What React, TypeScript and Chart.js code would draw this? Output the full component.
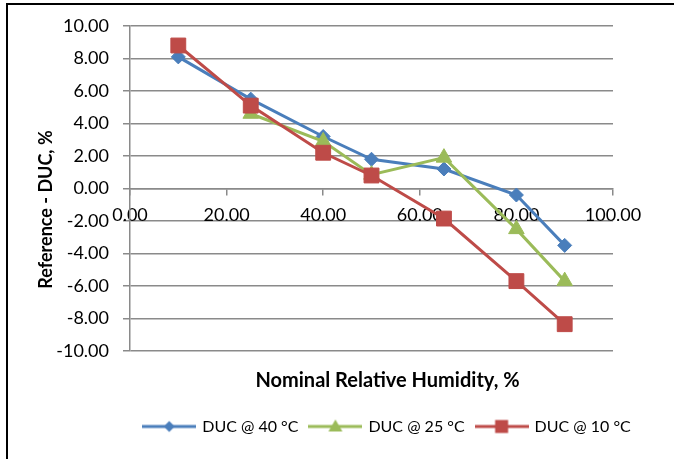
import React, { useEffect, useRef } from "react";
import { Chart, registerables } from "chart.js";

Chart.register(...registerables);

const seriesNames = ["DUC @ 40 °C", "DUC @ 25 °C", "DUC @ 10 °C"];
const xBlue = [10, 25, 40, 50, 65, 80, 90];
const yBlue = [8.1, 5.5, 3.2, 1.8, 1.2, -0.4, -3.5];
const xGreen = [25, 40, 50, 65, 80, 90];
const yGreen = [4.6, 2.9, 0.85, 1.9, -2.5, -5.7];
const xRed = [10, 25, 40, 50, 65, 80, 90];
const yRed = [8.8, 5.1, 2.2, 0.8, -1.85, -5.7, -8.35];
const xTitle = "Nominal Relative Humidity, %";
const yTitle = "Reference - DUC, %";

const BLUE = "#4A7EBB";
const GREEN = "#9BBB59";
const RED = "#BE4B48";
const GRID = "#8a8a8a";
const FONT = "Lato";

function pts(xs: number[], ys: number[]) {
  return xs.map((x, i) => ({ x, y: ys[i] }));
}

function legendImg(color: string, kind: string): HTMLCanvasElement {
  const c = document.createElement("canvas");
  c.width = 54;
  c.height = 18;
  const g = c.getContext("2d")!;
  g.strokeStyle = color;
  g.fillStyle = color;
  g.lineWidth = 3;
  g.beginPath();
  g.moveTo(0, 9);
  g.lineTo(54, 9);
  g.stroke();
  const cx = 27, cy = 9;
  g.beginPath();
  if (kind === "diamond") {
    g.moveTo(cx, cy - 5.5);
    g.lineTo(cx + 5.5, cy);
    g.lineTo(cx, cy + 5.5);
    g.lineTo(cx - 5.5, cy);
  } else if (kind === "triangle") {
    g.moveTo(cx, cy - 7);
    g.lineTo(cx + 7, cy + 5);
    g.lineTo(cx - 7, cy + 5);
  } else {
    g.rect(cx - 6.5, cy - 6.5, 13, 13);
  }
  g.closePath();
  g.fill();
  return c;
}

const yTitlePlugin = {
  id: "yTitlePlugin",
  afterDraw(chart: any) {
    const { ctx, chartArea } = chart;
    const cy = (chartArea.top + chartArea.bottom) / 2 + 21;
    ctx.save();
    ctx.translate(46, cy);
    ctx.rotate(-Math.PI / 2);
    ctx.font = `bold 18px ${FONT}`;
    ctx.fillStyle = "#000";
    ctx.textAlign = "center";
    ctx.textBaseline = "middle";
    ctx.fillText(yTitle, 0, 0);
    ctx.restore();
  },
};

export default function App() {
  const ref = useRef<HTMLCanvasElement | null>(null);

  useEffect(() => {
    document.body.style.margin = "0";
    const imgs = [legendImg(BLUE, "diamond"), legendImg(GREEN, "triangle"), legendImg(RED, "rect")];
    const colors = [BLUE, GREEN, RED];
    const chart = new Chart(ref.current!, {
      type: "line",
      data: {
        datasets: [
          {
            label: seriesNames[0],
            data: pts(xBlue, yBlue),
            borderColor: BLUE,
            backgroundColor: BLUE,
            borderWidth: 3,
            pointStyle: "rectRot",
            pointRadius: 7,
            pointBorderWidth: 1,
            order: 3,
          },
          {
            label: seriesNames[1],
            data: pts(xGreen, yGreen),
            borderColor: GREEN,
            backgroundColor: GREEN,
            borderWidth: 3,
            pointStyle: "triangle",
            pointRadius: 9,
            pointBorderWidth: 1,
            order: 2,
          },
          {
            label: seriesNames[2],
            data: pts(xRed, yRed),
            borderColor: RED,
            backgroundColor: RED,
            borderWidth: 3,
            pointStyle: "rect",
            pointRadius: 10.5,
            pointBorderWidth: 1,
            order: 1,
          },
        ],
      },
      options: {
        responsive: false,
        animation: false,
        layout: { padding: { left: 101, right: 0, top: 26, bottom: 14.5 } },
        scales: {
          x: {
            type: "linear",
            position: { y: 0 } as any,
            min: 0,
            max: 100,
            grid: { drawOnChartArea: false, drawTicks: true, tickLength: 6, color: GRID, lineWidth: 1.5 },
            border: { display: true, color: GRID, width: 1.5 },
            ticks: {
              stepSize: 20,
              padding: 10,
              color: "#000",
              font: { family: FONT, size: 18 },
              callback: (v: any) => Number(v).toFixed(2),
              maxRotation: 0,
              autoSkip: false,
            },
          },
          y: {
            type: "linear",
            position: "left",
            min: -10,
            max: 10,
            afterFit: (s: any) => {
              s.width = 29;
              s._computeLabelArea = () => undefined;
            },
            grid: { color: GRID, lineWidth: 1.5, drawTicks: true, tickLength: 7 },
            border: { display: true, color: GRID, width: 1.5 },
            ticks: {
              stepSize: 2,
              padding: 14,
              color: "#000",
              font: { family: FONT, size: 18 },
              callback: (v: any) => Number(v).toFixed(2),
            },
          },
          y2: {
            type: "linear",
            position: "right",
            min: -10,
            max: 10,
            afterFit: (s: any) => {
              s.width = 61;
            },
            grid: { display: false },
            border: { display: false },
            ticks: { display: false },
          },
        },
        plugins: {
          tooltip: { enabled: false },
          legend: {
            position: "bottom",
            title: {
              display: true,
              text: xTitle,
              color: "#000",
              font: { family: FONT, size: 20, weight: "bold" },
              padding: { top: 20, bottom: 11.5 },
            },
            labels: {
              usePointStyle: true,
              pointStyleWidth: 50,
              padding: 12,
              color: "#000",
              font: { family: FONT, size: 16 },
              generateLabels: () =>
                seriesNames.map((t, i) => ({
                  text: t,
                  pointStyle: imgs[i] as any,
                  fillStyle: colors[i],
                  strokeStyle: colors[i],
                  lineWidth: 0,
                  hidden: false,
                  datasetIndex: i,
                  fontColor: "#000",
                })),
            },
          },
        },
      },
      plugins: [yTitlePlugin],
    });
    return () => chart.destroy();
  }, []);

  return (
    <div style={{ position: "relative", width: 674, height: 459, overflow: "hidden" }}>
      <canvas ref={ref} width={674} height={459} style={{ display: "block" }} />
      <div
        style={{
          position: "absolute",
          left: 6,
          top: 3,
          width: 700,
          height: 500,
          borderTop: "2px solid #000",
          borderLeft: "2px solid #000",
          pointerEvents: "none",
        }}
      />
    </div>
  );
}
